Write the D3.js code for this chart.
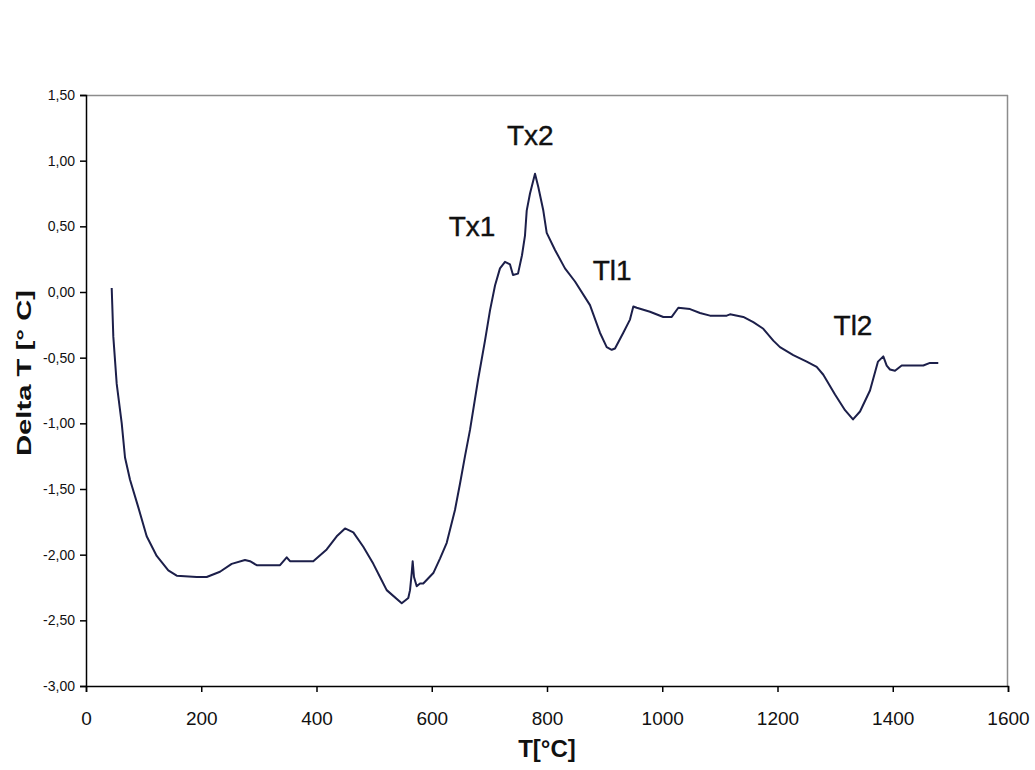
<!DOCTYPE html>
<html>
<head>
<meta charset="utf-8">
<script src="https://cdn.jsdelivr.net/npm/d3@7"></script>
<style>
body{margin:0;background:#fff;}
svg{display:block;font-family:"Liberation Sans",Arial,sans-serif;}
</style>
</head>
<body>
<div id="chart"></div>
<script>
// DTA curve
var temps = [44.6,45.6,47.4,53.3,62.0,67.7,76.4,90.8,105.3,122.7,142.8,157.4,192.1,209.5,232.5,252.8,275.9,284.6,296.2,336.7,348.3,354.0,394.4,417.7,435.1,449.5,463.9,481.2,498.6,510.2,521.8,547.9,559.3,562.3,565.2,566.9,569.2,573.9,579.6,585.3,602.7,614.3,626.0,640.3,649.0,657.7,666.4,680.3,692.4,701.1,709.8,718.4,727.1,735.8,741.0,749.7,756.6,761.8,764.8,770.5,779.2,784.9,793.6,799.5,813.9,831.2,848.6,874.6,891.9,903.6,912.3,918.0,932.4,944.0,949.8,955.7,978.7,1001.8,1016.4,1027.9,1048.2,1065.5,1082.9,1111.9,1117.6,1140.6,1158.0,1175.4,1192.7,1204.3,1227.4,1250.7,1268.0,1279.5,1299.8,1317.2,1331.0,1343.2,1360.5,1374.4,1383.6,1389.5,1395.2,1403.9,1415.5,1453.0,1464.6,1479.0];
var deltas = [0.03,-0.10,-0.34,-0.70,-1.00,-1.26,-1.43,-1.64,-1.86,-2.01,-2.12,-2.16,-2.17,-2.17,-2.13,-2.07,-2.04,-2.05,-2.08,-2.08,-2.02,-2.05,-2.05,-1.96,-1.86,-1.80,-1.83,-1.94,-2.07,-2.17,-2.27,-2.37,-2.33,-2.27,-2.14,-2.05,-2.17,-2.24,-2.22,-2.22,-2.14,-2.03,-1.91,-1.66,-1.46,-1.25,-1.05,-0.67,-0.37,-0.14,0.05,0.18,0.23,0.21,0.13,0.14,0.28,0.43,0.62,0.75,0.90,0.80,0.62,0.45,0.32,0.18,0.08,-0.10,-0.31,-0.42,-0.44,-0.43,-0.31,-0.21,-0.11,-0.12,-0.15,-0.19,-0.19,-0.12,-0.13,-0.16,-0.18,-0.18,-0.17,-0.19,-0.23,-0.28,-0.37,-0.42,-0.48,-0.53,-0.57,-0.63,-0.78,-0.90,-0.97,-0.91,-0.75,-0.53,-0.49,-0.56,-0.59,-0.60,-0.56,-0.56,-0.54,-0.54];

var xTicks = [0,200,400,600,800,1000,1200,1400,1600];
var yTicks = [1.5,1.0,0.5,0.0,-0.5,-1.0,-1.5,-2.0,-2.5,-3.0];

var peakNames = ["Tx1","Tx2","Tl1","Tl2"];
var peakT = [670,771,913,1331];
var peakD = [0.43,1.12,0.09,-0.33];

var W = 1035, H = 770;
var pLeft = 86, pRight = 1008, pTop = 95, pBottom = 686;

var x = d3.scaleLinear().domain([0,1600]).range([pLeft,pRight]);
var y = d3.scaleLinear().domain([-3,1.5]).range([pBottom,pTop]);

var svg = d3.select("#chart").append("svg").attr("width",W).attr("height",H);

var fmt = function(v){ return d3.format(".2f")(v).replace(".",",").replace("−","-"); };

// frame: grey top/right
svg.append("line").attr("x1",pLeft).attr("x2",pRight).attr("y1",pTop+0.5).attr("y2",pTop+0.5)
	.attr("stroke","#8c8c8c").attr("stroke-width",1.5);
svg.append("line").attr("x1",pRight-0.5).attr("x2",pRight-0.5).attr("y1",pTop).attr("y2",pBottom)
	.attr("stroke","#8c8c8c").attr("stroke-width",1.5);

var yAxis = svg.append("g").attr("transform","translate("+pLeft+",0)")
	.call(d3.axisLeft(y).tickValues(yTicks).tickSize(6).tickPadding(5).tickFormat(fmt));
var xAxis = svg.append("g").attr("transform","translate(0,"+pBottom+")")
	.call(d3.axisBottom(x).tickValues(xTicks).tickSize(6).tickPadding(20).tickFormat(d3.format("d")));

[yAxis,xAxis].forEach(function(g){
	g.select(".domain").attr("stroke","#000").attr("stroke-width",1.5);
	g.selectAll(".tick line").attr("stroke","#000").attr("stroke-width",1.5);
	g.selectAll("text").attr("fill","#111").style("font-family","'Liberation Sans',Arial,sans-serif");
});
yAxis.selectAll("text").style("font-size","14px");
xAxis.selectAll("text").style("font-size","19px");

// curve
var pts = temps.map(function(t,i){ return [t,deltas[i]]; });
var line = d3.line().x(function(d){return x(d[0])}).y(function(d){return y(d[1])});
svg.append("path").datum(pts).attr("d",line)
	.attr("fill","none").attr("stroke","#1c1f4a").attr("stroke-width",2).attr("stroke-linejoin","round");

// peak labels
svg.selectAll("text.peak").data(peakNames).enter().append("text").attr("class","peak")
	.attr("x",function(d,i){return x(peakT[i])})
	.attr("y",function(d,i){return y(peakD[i])})
	.attr("text-anchor","middle")
	.style("font-size","28px").attr("fill","#111")
	.attr("stroke","#111").attr("stroke-width",0.4)
	.text(function(d){return d});

// axis titles
svg.append("text").attr("x",(pLeft+pRight)/2).attr("y",757).attr("text-anchor","middle")
	.style("font-size","24px").style("font-weight","bold").attr("fill","#111").text("T[°C]");
svg.append("text").attr("transform","translate(31,373) rotate(-90)").attr("text-anchor","middle")
	.style("font-size","21px").style("font-weight","bold").attr("fill","#111")
	.attr("textLength",166).attr("lengthAdjust","spacingAndGlyphs")
	.text("Delta T [° C]");
</script>
</body>
</html>
